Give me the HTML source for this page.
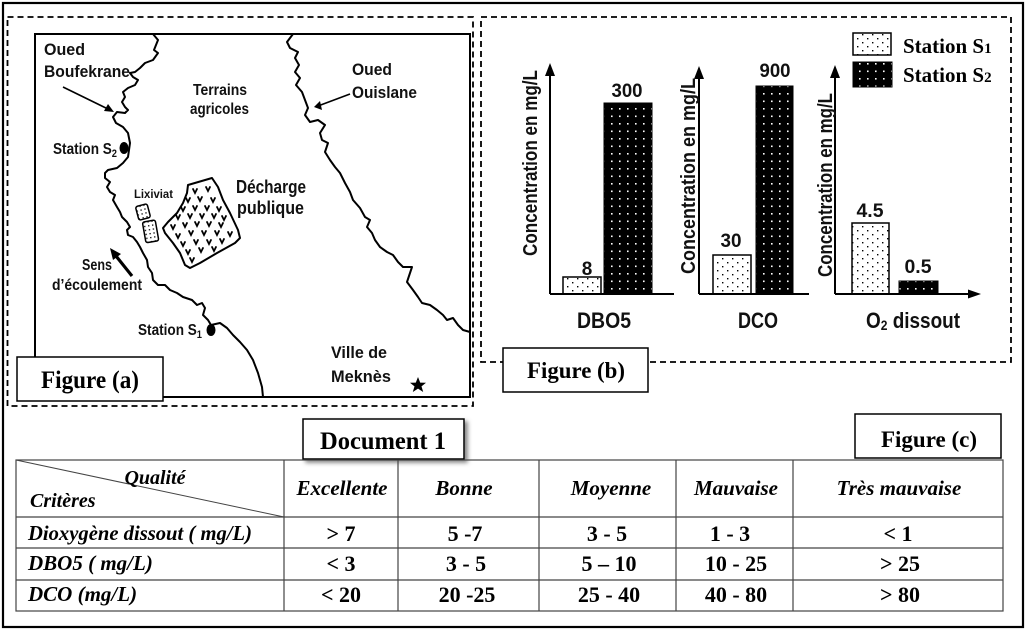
<!DOCTYPE html>
<html><head><meta charset="utf-8">
<style>
html,body{margin:0;padding:0;background:#fff;}
svg{display:block;}
.s{font-family:"Liberation Sans",sans-serif;font-weight:bold;fill:#111;}
.r{font-family:"Liberation Serif",serif;font-weight:bold;fill:#000;}
.ri{font-family:"Liberation Serif",serif;font-weight:bold;font-style:italic;fill:#000;}
</style></head>
<body>
<svg width="1028" height="632" viewBox="0 0 1028 632" xmlns="http://www.w3.org/2000/svg">
<defs>
<pattern id="p1" width="10" height="8" patternUnits="userSpaceOnUse"><rect width="10" height="8" fill="#fff"/><rect x="2" y="2" width="1.4" height="1.4" fill="#000"/><rect x="7" y="6" width="1.4" height="1.4" fill="#000"/></pattern>
<pattern id="p2" width="8" height="7.5" patternUnits="userSpaceOnUse"><rect width="8" height="7.5" fill="#000"/><rect x="3" y="3" width="1.6" height="1.6" fill="#fff"/></pattern>
<pattern id="p3" width="4" height="4" patternUnits="userSpaceOnUse"><rect width="4" height="4" fill="#fff"/><rect x="1" y="1" width="1.3" height="1.3" fill="#000"/></pattern>
<filter id="sh" x="-10%" y="-20%" width="130%" height="160%"><feDropShadow dx="3" dy="3" stdDeviation="2" flood-color="#666" flood-opacity="0.8"/></filter>
</defs>

<!-- outer border -->
<rect x="3" y="3" width="1020" height="624" fill="none" stroke="#000" stroke-width="2.2"/>

<!-- dashed boxes -->
<rect x="7.5" y="17" width="465.5" height="389" fill="none" stroke="#000" stroke-width="1.8" stroke-dasharray="6 4"/>
<rect x="481" y="17" width="530" height="345" fill="none" stroke="#000" stroke-width="1.8" stroke-dasharray="6 4"/>

<!-- MAP -->
<rect x="35" y="34" width="435" height="363" fill="#fff" stroke="#000" stroke-width="2"/>
<polyline fill="none" stroke="#000" stroke-width="2" stroke-linejoin="round" stroke-linecap="round" points="153,34 158,40 156,45 154,50 158,53 153,60 145,63 140,68 135,72 130,73 133,77 138,80 135,85 128,88 123,92 125,97 122,102 125,107 128,110 125,113 117,112 113,117 116,123 123,127 128,133 130,143 128,157 123,163 117,168 108,170 105,173 105,178 110,182 107,187 110,192 115,195 113,200 117,207 120,212 122,217 127,222 130,227 127,230 128,235 133,237 137,242 140,247 143,253 147,260 148,267 152,273 153,280 158,285 165,285 170,290 177,293 183,297 192,300 197,305 202,303 205,308 203,315 208,320 211,325 220,323 227,328 233,335 240,342 247,350 253,360 258,373 262,387 263,397"/>
<polyline fill="none" stroke="#000" stroke-width="2" stroke-linejoin="round" stroke-linecap="round" points="293,34 287,42 290,48 298,52 295,58 299,65 295,72 300,78 296,85 302,92 305,100 308,108 305,115 310,122 318,120 325,125 320,133 322,140 328,143 325,152 330,160 335,167 340,173 345,183 350,192 353,200 360,208 365,217 370,220 367,227 372,233 375,240 380,247 387,252 393,255 398,262 403,267 412,267 410,273 407,282 413,290 418,297 422,303 430,305 437,310 443,315 447,320 453,318 458,325 463,330 470,332"/>

<!-- stations -->
<ellipse cx="124" cy="148" rx="4.5" ry="6" fill="#000"/>
<ellipse cx="211" cy="330" rx="4.5" ry="6" fill="#000"/>

<!-- decharge -->
<polygon points="188,185 212,178 218,187 223,200 230,213 238,230 240,238 235,243 217,253 200,263 190,268 185,265 180,253 173,243 165,233 163,228 168,222 177,213 183,203 187,193" fill="#fff" stroke="#000" stroke-width="2" stroke-linejoin="round"/>
<g fill="none" stroke="#000" stroke-width="1.8" stroke-linecap="round">
<path d="M193,189 l2,4 l2,-4 M206,187 l2,4 l2,-4 M186,198 l2,4 l2,-4 M198,197 l2,4 l2,-4 M211,198 l2,4 l2,-4 M181,207 l2,4 l2,-4 M193,206 l2,4 l2,-4 M205,206 l2,4 l2,-4 M217,207 l2,4 l2,-4 M176,215 l2,4 l2,-4 M188,214 l2,4 l2,-4 M200,214 l2,4 l2,-4 M212,214 l2,4 l2,-4 M222,216 l2,4 l2,-4 M171,225 l2,4 l2,-4 M183,223 l2,4 l2,-4 M195,222 l2,4 l2,-4 M207,222 l2,4 l2,-4 M219,223 l2,4 l2,-4 M176,234 l2,4 l2,-4 M189,231 l2,4 l2,-4 M202,231 l2,4 l2,-4 M215,231 l2,4 l2,-4 M228,232 l2,4 l2,-4 M181,242 l2,4 l2,-4 M194,240 l2,4 l2,-4 M207,240 l2,4 l2,-4 M220,239 l2,4 l2,-4 M186,250 l2,4 l2,-4 M199,248 l2,4 l2,-4 M212,247 l2,4 l2,-4 M190,258 l2,4 l2,-4"/>
</g>
<!-- lixiviat -->
<rect x="137" y="205" width="12" height="14" rx="2" fill="url(#p3)" stroke="#000" stroke-width="1.5" transform="rotate(-15 143 212)"/>
<rect x="144" y="221" width="13" height="21" rx="2" fill="url(#p3)" stroke="#000" stroke-width="1.5" transform="rotate(-10 150 231)"/>

<!-- arrows -->
<g stroke="#000" stroke-width="1.6" fill="none">
<line x1="63" y1="87" x2="110" y2="110"/>
<line x1="350" y1="94" x2="318" y2="106"/>
</g>
<polygon points="114,112 104,111 108,104" fill="#000"/>
<polygon points="314,107 320,101 322,110" fill="#000"/>
<line x1="132" y1="276" x2="116" y2="256" stroke="#000" stroke-width="3.2"/>
<polygon points="110,248 121,254 113,260" fill="#000"/>
<!-- star -->
<polygon points="418,377 420.2,382.6 426,382.8 421.5,386.4 423.2,392 418,388.6 412.8,392 414.5,386.4 410,382.8 415.8,382.6" fill="#000"/>

<!-- map text -->
<text class="s" x="44" y="55" font-size="17" textLength="41" lengthAdjust="spacingAndGlyphs">Oued</text>
<text class="s" x="44" y="77" font-size="17" textLength="86" lengthAdjust="spacingAndGlyphs">Boufekrane</text>
<text class="s" x="193" y="95" font-size="16" textLength="54" lengthAdjust="spacingAndGlyphs">Terrains</text>
<text class="s" x="190" y="114" font-size="16" textLength="59" lengthAdjust="spacingAndGlyphs">agricoles</text>
<text class="s" x="53" y="154" font-size="16" textLength="64" lengthAdjust="spacingAndGlyphs">Station S<tspan font-size="11" dy="3">2</tspan></text>
<text class="s" x="134" y="198" font-size="12" textLength="39" lengthAdjust="spacingAndGlyphs">Lixiviat</text>
<text class="s" x="236" y="193" font-size="18" textLength="70" lengthAdjust="spacingAndGlyphs">Décharge</text>
<text class="s" x="237" y="214" font-size="18" textLength="67" lengthAdjust="spacingAndGlyphs">publique</text>
<text class="s" x="352" y="75" font-size="17" textLength="40" lengthAdjust="spacingAndGlyphs">Oued</text>
<text class="s" x="352" y="98" font-size="17" textLength="65" lengthAdjust="spacingAndGlyphs">Ouislane</text>
<text class="s" x="82" y="270" font-size="16" textLength="30" lengthAdjust="spacingAndGlyphs">Sens</text>
<text class="s" x="52" y="290" font-size="16" textLength="90" lengthAdjust="spacingAndGlyphs">d’écoulement</text>
<text class="s" x="138" y="335" font-size="16" textLength="64" lengthAdjust="spacingAndGlyphs">Station S<tspan font-size="11" dy="3">1</tspan></text>
<text class="s" x="331" y="358" font-size="17" textLength="56" lengthAdjust="spacingAndGlyphs">Ville de</text>
<text class="s" x="331" y="382" font-size="17" textLength="60" lengthAdjust="spacingAndGlyphs">Meknès</text>

<!-- Figure (a) label -->
<rect x="17" y="357" width="146" height="44" fill="#fff" stroke="#000" stroke-width="1.5"/>
<text class="r" x="90" y="388" font-size="25" text-anchor="middle" textLength="98" lengthAdjust="spacingAndGlyphs">Figure (a)</text>

<!-- BAR CHARTS -->
<!-- chart 1 -->
<rect x="563" y="277" width="38" height="17" fill="url(#p1)" stroke="#000" stroke-width="1.5"/>
<rect x="604" y="103" width="48" height="191" fill="url(#p2)" stroke="#000" stroke-width="1"/>
<line x1="550" y1="294" x2="674" y2="294" stroke="#000" stroke-width="2"/>
<line x1="550" y1="294" x2="550" y2="72" stroke="#000" stroke-width="2"/>
<polygon points="550,63 545,76 555,76" fill="#000"/>
<text class="s" transform="translate(537,163) rotate(-90)" font-size="20" text-anchor="middle" textLength="186" lengthAdjust="spacingAndGlyphs">Concentration en mg/L</text>
<text class="s" x="587" y="275" font-size="19" text-anchor="middle">8</text>
<text class="s" x="627" y="97" font-size="19" text-anchor="middle" textLength="31" lengthAdjust="spacingAndGlyphs">300</text>
<text class="s" x="604" y="328" font-size="22" text-anchor="middle" textLength="54" lengthAdjust="spacingAndGlyphs">DBO5</text>

<!-- chart 2 -->
<rect x="713" y="255" width="38" height="39" fill="url(#p1)" stroke="#000" stroke-width="1.5"/>
<rect x="756" y="86" width="37" height="208" fill="url(#p2)" stroke="#000" stroke-width="1"/>
<line x1="699" y1="294" x2="809" y2="294" stroke="#000" stroke-width="2"/>
<line x1="699" y1="294" x2="699" y2="75" stroke="#000" stroke-width="2"/>
<polygon points="699,66 694,79 704,79" fill="#000"/>
<text class="s" transform="translate(695,176) rotate(-90)" font-size="20" text-anchor="middle" textLength="196" lengthAdjust="spacingAndGlyphs">Concentration en mg/L</text>
<text class="s" x="731" y="247" font-size="19" text-anchor="middle" textLength="21" lengthAdjust="spacingAndGlyphs">30</text>
<text class="s" x="775" y="77" font-size="19" text-anchor="middle" textLength="31" lengthAdjust="spacingAndGlyphs">900</text>
<text class="s" x="758" y="328" font-size="22" text-anchor="middle" textLength="40" lengthAdjust="spacingAndGlyphs">DCO</text>

<!-- chart 3 -->
<rect x="852" y="223" width="37" height="71" fill="url(#p1)" stroke="#000" stroke-width="1.5"/>
<rect x="899" y="281" width="39" height="13" fill="url(#p2)" stroke="#000" stroke-width="1"/>
<line x1="835" y1="294" x2="970" y2="294" stroke="#000" stroke-width="2"/>
<polygon points="981,294 968,289.5 968,298.5" fill="#000"/>
<line x1="835" y1="294" x2="835" y2="74" stroke="#000" stroke-width="2"/>
<polygon points="835,65 830,78 840,78" fill="#000"/>
<text class="s" transform="translate(832,185) rotate(-90)" font-size="20" text-anchor="middle" textLength="184" lengthAdjust="spacingAndGlyphs">Concentration en mg/L</text>
<text class="s" x="870" y="217" font-size="19" text-anchor="middle" textLength="27" lengthAdjust="spacingAndGlyphs">4.5</text>
<text class="s" x="918" y="273" font-size="19" text-anchor="middle" textLength="27" lengthAdjust="spacingAndGlyphs">0.5</text>
<text class="s" x="866" y="328" font-size="22" textLength="94" lengthAdjust="spacingAndGlyphs">O<tspan font-size="14" dy="2">2</tspan><tspan dy="-2"> dissout</tspan></text>

<!-- legend -->
<rect x="853" y="33" width="38" height="22" fill="url(#p1)" stroke="#000" stroke-width="1.5"/>
<rect x="853" y="62" width="39" height="25" fill="url(#p2)" stroke="#000" stroke-width="1"/>
<text class="r" x="903" y="53" font-size="21">Station S<tspan font-size="15">1</tspan></text>
<text class="r" x="903" y="82" font-size="21">Station S<tspan font-size="15">2</tspan></text>

<!-- Figure (b) label -->
<rect x="503" y="348" width="145" height="44" fill="#fff" stroke="#000" stroke-width="1.5"/>
<text class="r" x="576" y="378" font-size="23" text-anchor="middle" textLength="98" lengthAdjust="spacingAndGlyphs">Figure (b)</text>

<!-- Document 1 -->
<rect x="303" y="419" width="161" height="40" fill="#fff" stroke="#000" stroke-width="1.5" filter="url(#sh)"/>
<text class="r" x="383" y="449" font-size="25" text-anchor="middle" textLength="126" lengthAdjust="spacingAndGlyphs">Document 1</text>

<!-- Figure (c) -->
<rect x="855" y="414" width="146" height="44" fill="#fff" stroke="#000" stroke-width="1.5"/>
<text class="r" x="929" y="447" font-size="23" text-anchor="middle" textLength="96" lengthAdjust="spacingAndGlyphs">Figure (c)</text>

<!-- TABLE -->
<g stroke="#444" stroke-width="1.2" fill="none">
<rect x="16" y="460" width="987" height="151"/>
<line x1="16" y1="517" x2="1003" y2="517"/>
<line x1="16" y1="548" x2="1003" y2="548"/>
<line x1="16" y1="580" x2="1003" y2="580"/>
<line x1="284" y1="460" x2="284" y2="611"/>
<line x1="398" y1="460" x2="398" y2="611"/>
<line x1="539" y1="460" x2="539" y2="611"/>
<line x1="676" y1="460" x2="676" y2="611"/>
<line x1="793" y1="460" x2="793" y2="611"/>
<line x1="16" y1="460" x2="284" y2="517" stroke-width="1"/>
</g>
<text class="ri" x="155" y="484" font-size="20" text-anchor="middle">Qualité</text>
<text class="ri" x="30" y="507" font-size="20">Critères</text>
<g class="ri" font-size="21" text-anchor="middle">
<text class="ri" x="342" y="495">Excellente</text>
<text class="ri" x="464" y="495">Bonne</text>
<text class="ri" x="611" y="495">Moyenne</text>
<text class="ri" x="736" y="495">Mauvaise</text>
<text class="ri" x="899" y="495">Très mauvaise</text>
</g>
<text class="ri" x="28" y="540" font-size="21" textLength="224" lengthAdjust="spacingAndGlyphs">Dioxygène dissout ( mg/L)</text>
<text class="ri" x="28" y="570" font-size="21">DBO5 ( mg/L)</text>
<text class="ri" x="28" y="601" font-size="21">DCO (mg/L)</text>
<g font-size="22" text-anchor="middle">
<text class="r" x="341" y="541">&gt; 7</text>
<text class="r" x="465" y="541">5 -7</text>
<text class="r" x="607" y="541">3 - 5</text>
<text class="r" x="730" y="541">1 - 3</text>
<text class="r" x="898" y="541">&lt; 1</text>
<text class="r" x="341" y="571">&lt; 3</text>
<text class="r" x="466" y="571">3 - 5</text>
<text class="r" x="609" y="571">5 – 10</text>
<text class="r" x="736" y="571">10 - 25</text>
<text class="r" x="900" y="571">&gt; 25</text>
<text class="r" x="341" y="602">&lt; 20</text>
<text class="r" x="467" y="602">20 -25</text>
<text class="r" x="609" y="602">25 - 40</text>
<text class="r" x="736" y="602">40 - 80</text>
<text class="r" x="900" y="602">&gt; 80</text>
</g>
</svg>
</body></html>
